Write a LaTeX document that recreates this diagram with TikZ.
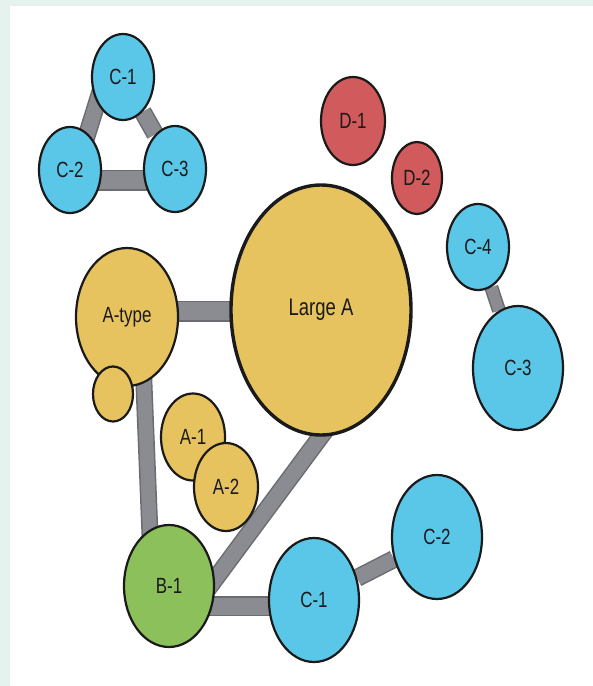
\documentclass[tikz,border=0pt]{standalone}
\usepackage{fontspec}
\setmainfont{Liberation Sans}[FakeStretch=0.77]
\usetikzlibrary{shapes.geometric,calc,backgrounds}
\definecolor{cblue}{HTML}{5BC7E8}
\definecolor{cyellow}{HTML}{E6C35E}
\definecolor{cred}{HTML}{D05A5C}
\definecolor{cgreen}{HTML}{8CC05A}
\definecolor{cgray}{HTML}{8A8C92}
\definecolor{cgedge}{HTML}{6A6C71}
\definecolor{cmint}{HTML}{E6F2EE}
\definecolor{cink}{HTML}{1A1A1A}
\newcommand\conn[3]{%
  \draw[line width=#3pt, cgedge] #1 -- #2;
  \draw[line width=#3pt-3pt, cgray] #1 -- #2;}
\begin{document}
\begin{tikzpicture}[x=1pt,y=-1pt,
  bub/.style={ellipse, draw=cink, line width=2.2pt, inner sep=0pt,
    text=cink, font=\fontsize{22}{24}\selectfont},
  sz/.style 2 args={minimum width=#1pt, minimum height=#2pt},
  blueb/.style={bub, fill=cblue},
  yelb/.style={bub, fill=cyellow},
  redb/.style={bub, fill=cred},
  greenb/.style={bub, fill=cgreen}]
\useasboundingbox (0,0) rectangle (593,686);
\begin{scope}[on background layer]
  \fill[cmint] (0,0) rectangle (593,686);
  \fill[white] (10,6) rectangle (593,686);
\end{scope}
% top triangle cluster
\node[blueb, sz={62}{86}] (C1t) at (123,77) {C-1};
\node[blueb, sz={62}{86}] (C2t) at (70,170) {C-2};
\node[blueb, sz={62}{86}] (C3t) at (175,169) {C-3};
% red
\node[redb, sz={64}{88}] (D1) at (353,121) {D-1};
\node[redb, sz={50}{72}] (D2) at (417,178) {D-2};
% right blue pair
\node[blueb, sz={62}{86}] (C4) at (478,247) {C-4};
\node[blueb, sz={90}{124}] (C3r) at (518,368) {C-3};
% yellow
\node[yelb, sz={102}{138}] (At) at (127,317) {A-type};
\node[yelb, sz={40}{55}] (Sm) at (113,394) {};
\node[yelb, line width=3.4pt, sz={180}{250}, font=\fontsize{24}{26}\selectfont] (LA) at (321,310) {Large A};
\node[yelb, sz={64}{87}] (A1) at (193,437) {A-1};
\node[yelb, sz={64}{88}] (A2) at (226,487) {A-2};
% bottom
\node[greenb, sz={90}{122}] (B1) at (169,586) {B-1};
\node[blueb, sz={90}{124}] (C1b) at (314,600) {C-1};
\node[blueb, sz={90}{124}] (C2b) at (437,537) {C-2};
\begin{scope}[on background layer]
  \conn{($(C1t)+(-18,0)$)}{($(C2t)+(6,0)$)}{18}
  \conn{(C1t)}{(C3t)}{18}
  \conn{($(C2t)+(0,10)$)}{($(C3t)+(0,11)$)}{21}
  \conn{(C4)}{(C3r)}{14}
  \conn{($(At)+(0,-6)$)}{($(LA)+(0,1)$)}{21}
  \conn{($(At)+(16,43)$)}{($(B1)+(-18,-26)$)}{17}
  \conn{($(B1)+(38,4)$)}{($(LA)+(9,114)$)}{18}
  \conn{($(B1)+(20,20)$)}{($(C1b)+(-20,6)$)}{20}
  \conn{(C1b)}{(C2b)}{18}
\end{scope}
\end{tikzpicture}
\end{document}
